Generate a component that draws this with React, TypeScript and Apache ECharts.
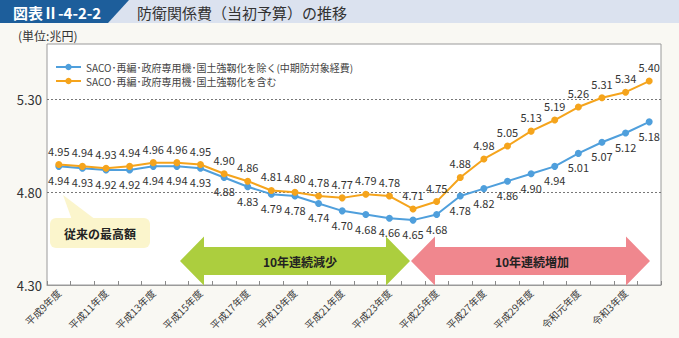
import React, { useEffect, useRef } from "react";
import * as echarts from "echarts";

// 年度（平成9年度〜令和4年度）
const years: string[] = [
  "平成9年度", "平成10年度", "平成11年度", "平成12年度", "平成13年度", "平成14年度",
  "平成15年度", "平成16年度", "平成17年度", "平成18年度", "平成19年度", "平成20年度",
  "平成21年度", "平成22年度", "平成23年度", "平成24年度", "平成25年度", "平成26年度",
  "平成27年度", "平成28年度", "平成29年度", "平成30年度", "令和元年度", "令和2年度",
  "令和3年度", "令和4年度",
];

// SACO・再編・政府専用機・国土強靱化を除く（中期防対象経費）
const excluding: number[] = [
  4.94, 4.93, 4.92, 4.92, 4.94, 4.94, 4.93, 4.88, 4.83, 4.79, 4.78, 4.74, 4.70,
  4.68, 4.66, 4.65, 4.68, 4.78, 4.82, 4.86, 4.90, 4.94, 5.01, 5.07, 5.12, 5.18,
];

// SACO・再編・政府専用機・国土強靱化を含む
const including: number[] = [
  4.95, 4.94, 4.93, 4.94, 4.96, 4.96, 4.95, 4.90, 4.86, 4.81, 4.80, 4.78, 4.77,
  4.79, 4.78, 4.71, 4.75, 4.88, 4.98, 5.05, 5.13, 5.19, 5.26, 5.31, 5.34, 5.40,
];

const seriesNames: string[] = [
  "SACO･再編･政府専用機･国土強靱化を除く(中期防対象経費)",
  "SACO･再編･政府専用機･国土強靱化を含む",
];

const yTicks: number[] = [4.3, 4.8, 5.3];

const FONT = '"Noto Sans CJK JP", "Noto Sans", sans-serif';
const BLUE = "#4f9fdc";
const ORANGE = "#f5a41c";

function doubleArrow(x0: number, x1: number, cy: number, color: string) {
  const head = 24;
  const hh = 24.5;
  const bh = 14;
  return {
    type: "polygon",
    shape: {
      points: [
        [x0, cy],
        [x0 + head, cy - hh],
        [x0 + head, cy - bh],
        [x1 - head, cy - bh],
        [x1 - head, cy - hh],
        [x1, cy],
        [x1 - head, cy + hh],
        [x1 - head, cy + bh],
        [x0 + head, cy + bh],
        [x0 + head, cy + hh],
      ],
    },
    style: { fill: color },
    z: 10,
  };
}

export default function App() {
  const ref = useRef<HTMLDivElement>(null);

  useEffect(() => {
    if (!ref.current) return;
    const chart = echarts.init(ref.current, undefined, { renderer: "svg" });

    const labelStyle = { color: "#333", fontSize: 11, fontFamily: FONT };

    chart.setOption({
      animation: false,
      backgroundColor: "#f9f8f3",
      textStyle: { fontFamily: FONT },
      grid: {
        left: 47,
        right: 18,
        top: 44,
        bottom: 53,
        show: true,
        backgroundColor: "#ffffff",
        borderColor: "#9a9a9a",
        borderWidth: 1,
      },
      legend: {
        orient: "vertical",
        left: 50,
        top: 57,
        itemWidth: 25,
        itemHeight: 8,
        itemGap: 4,
        textStyle: { color: "#444", fontSize: 10, fontFamily: FONT },
        data: seriesNames,
      },
      xAxis: {
        type: "category",
        data: years,
        boundaryGap: true,
        axisLine: { show: true, lineStyle: { color: "#9a9a9a" } },
        axisTick: {
          show: true,
          inside: true,
          length: 4,
          interval: 0,
          lineStyle: { color: "#8a8a8a" },
        },
        axisLabel: {
          interval: 1,
          rotate: 45,
          fontSize: 10,
          color: "#3a3a3a",
          margin: 6,
          fontFamily: FONT,
        },
      },
      yAxis: {
        type: "value",
        min: 4.3,
        max: 5.6,
        interval: 0.5,
        axisLine: { show: false },
        axisTick: { show: false },
        axisLabel: {
          fontSize: 13,
          color: "#333",
          margin: 5,
          fontFamily: FONT,
          showMaxLabel: false,
          formatter: (v: number) =>
            yTicks.some((t) => Math.abs(t - v) < 1e-6) ? v.toFixed(2) : "",
        },
        splitLine: {
          show: true,
          lineStyle: {
            type: [2, 2],
            width: 1,
            color: ["transparent", "#777", "#777", "transparent"],
          },
        },
      },
      series: [
        {
          name: seriesNames[0],
          type: "line",
          data: excluding,
          symbol: "circle",
          symbolSize: 7,
          lineStyle: { width: 2, color: BLUE },
          itemStyle: { color: BLUE },
          label: {
            show: true,
            position: "bottom",
            distance: 5,
            formatter: (p: any) => Number(p.value).toFixed(2),
            ...labelStyle,
          },
          z: 3,
        },
        {
          name: seriesNames[1],
          type: "line",
          data: including,
          symbol: "circle",
          symbolSize: 7,
          lineStyle: { width: 2, color: ORANGE },
          itemStyle: { color: ORANGE },
          label: {
            show: true,
            position: "top",
            distance: 5,
            formatter: (p: any) => Number(p.value).toFixed(2),
            ...labelStyle,
          },
          z: 4,
        },
      ],
      graphic: [
        // 見出し帯
        {
          type: "rect",
          shape: { x: 0, y: 0, width: 679, height: 23 },
          style: { fill: "#dbe2ef" },
          z: 0,
        },
        {
          type: "polygon",
          shape: { points: [[0, 0], [129, 0], [108, 23], [0, 23]] },
          style: { fill: "#1d5e9b" },
          z: 1,
        },
        {
          type: "text",
          x: 13,
          y: 12,
          style: {
            text: "図表Ⅱ-4-2-2",
            fill: "#ffffff",
            font: `bold 15px ${FONT}`,
            verticalAlign: "middle",
          },
          z: 2,
        },
        {
          type: "text",
          x: 137,
          y: 12,
          style: {
            text: "防衛関係費（当初予算）の推移",
            fill: "#333",
            font: `15px ${FONT}`,
            verticalAlign: "middle",
          },
          z: 2,
        },
        {
          type: "text",
          x: 18,
          y: 35,
          style: {
            text: "(単位:兆円)",
            fill: "#333",
            font: `12px ${FONT}`,
            verticalAlign: "middle",
          },
        },
        // 吹き出し「従来の最高額」
        {
          type: "polygon",
          shape: { points: [[63, 195], [72, 220], [96, 220]] },
          style: { fill: "#fbf5cc" },
          z: 9,
        },
        {
          type: "rect",
          shape: { x: 50, y: 218, width: 100, height: 30, r: 6 },
          style: { fill: "#fbf5cc" },
          z: 9,
        },
        {
          type: "text",
          x: 100,
          y: 233,
          style: {
            text: "従来の最高額",
            fill: "#222",
            font: `bold 12px ${FONT}`,
            align: "center",
            verticalAlign: "middle",
          },
          z: 10,
        },
        // 減少・増加の矢印
        doubleArrow(180, 410, 261, "#acce3e"),
        doubleArrow(411, 650, 261, "#f0878e"),
        {
          type: "text",
          x: 300,
          y: 261,
          style: {
            text: "10年連続減少",
            fill: "#222",
            font: `bold 12px ${FONT}`,
            align: "center",
            verticalAlign: "middle",
          },
          z: 11,
        },
        {
          type: "text",
          x: 532,
          y: 261,
          style: {
            text: "10年連続増加",
            fill: "#222",
            font: `bold 12px ${FONT}`,
            align: "center",
            verticalAlign: "middle",
          },
          z: 11,
        },
      ],
    });

    return () => chart.dispose();
  }, []);

  return (
    <div
      ref={ref}
      style={{ position: "fixed", left: 0, top: 0, width: 679, height: 338 }}
    />
  );
}
